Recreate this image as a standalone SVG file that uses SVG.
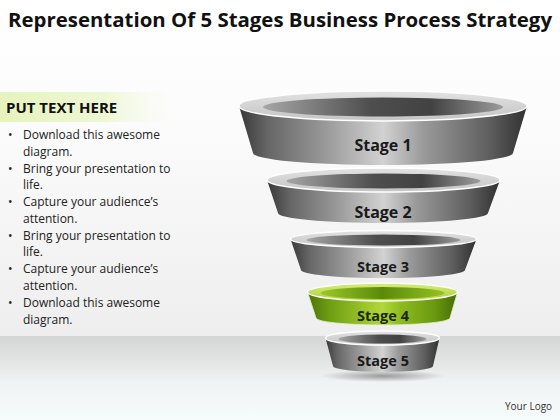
<svg xmlns="http://www.w3.org/2000/svg" width="560" height="420" viewBox="0 0 560 420">
<defs>
<linearGradient id="wall" x1="0" y1="0" x2="0" y2="1">
<stop offset="0" stop-color="#ffffff"/><stop offset="0.4" stop-color="#fbfbfb"/><stop offset="1" stop-color="#eeeeee"/>
</linearGradient>
<linearGradient id="floor" x1="0" y1="0" x2="0" y2="1">
<stop offset="0" stop-color="#d4d4d4"/><stop offset="0.55" stop-color="#f0f3f3"/><stop offset="1" stop-color="#f6fbfb"/>
</linearGradient>
<linearGradient id="hl" x1="0" y1="0" x2="1" y2="0">
<stop offset="0" stop-color="#e6f3bd"/><stop offset="0.6" stop-color="#eef7d4"/><stop offset="1" stop-color="#f8fbf2" stop-opacity="0"/>
</linearGradient>
<linearGradient id="body" x1="0" y1="0" x2="1" y2="0">
<stop offset="0" stop-color="#383838"/><stop offset="0.1" stop-color="#666666"/><stop offset="0.3" stop-color="#999999"/><stop offset="0.5" stop-color="#d2d2d2"/><stop offset="0.64" stop-color="#9a9a9a"/><stop offset="0.87" stop-color="#5e5e5e"/><stop offset="1" stop-color="#303030"/>
</linearGradient>
<linearGradient id="bodyG" x1="0" y1="0" x2="1" y2="0">
<stop offset="0" stop-color="#4a7308"/><stop offset="0.15" stop-color="#6f9e12"/><stop offset="0.5" stop-color="#b2d83a"/><stop offset="0.62" stop-color="#8dbb1e"/><stop offset="0.85" stop-color="#6a980f"/><stop offset="1" stop-color="#456c06"/>
</linearGradient>
<linearGradient id="rim" x1="0" y1="0" x2="0" y2="1">
<stop offset="0" stop-color="#e2e2e2"/><stop offset="1" stop-color="#c4c4c4"/>
</linearGradient>
<linearGradient id="rimG" x1="0" y1="0" x2="0" y2="1">
<stop offset="0" stop-color="#d8ec80"/><stop offset="1" stop-color="#a9d030"/>
</linearGradient>
<linearGradient id="inner" x1="0" y1="0" x2="1" y2="0">
<stop offset="0" stop-color="#a6a6a6"/><stop offset="0.45" stop-color="#4e4e4e"/><stop offset="0.7" stop-color="#424242"/><stop offset="1" stop-color="#9c9c9c"/>
</linearGradient>
<linearGradient id="innerG" x1="0" y1="0" x2="1" y2="0">
<stop offset="0" stop-color="#9cc828"/><stop offset="0.5" stop-color="#5a8a0a"/><stop offset="1" stop-color="#94c224"/>
</linearGradient>
<radialGradient id="shadow" cx="0.5" cy="0.5" r="0.5">
<stop offset="0" stop-color="#000" stop-opacity="0.35"/><stop offset="1" stop-color="#000" stop-opacity="0"/>
</radialGradient>
</defs>
<style>
.title{font-family:"Open Sans","Liberation Sans",sans-serif;font-weight:bold;font-size:20px;fill:#111}
.hdr{font-family:"Open Sans","Liberation Sans",sans-serif;font-weight:bold;font-size:15px;fill:#111}
.txt{font-family:"Open Sans","Liberation Sans",sans-serif;font-size:12px;fill:#222}
.lbl{font-family:"Open Sans","Liberation Sans",sans-serif;font-weight:bold;font-size:16px;fill:#1a1a1a;text-anchor:middle}
.logo{font-family:"Open Sans","Liberation Sans",sans-serif;font-size:10px;fill:#333}
.rimline{stroke:#ffffff;stroke-width:1.5}
</style>
<rect x="0" y="0" width="560" height="336" fill="url(#wall)"/>
<rect x="0" y="336" width="560" height="84" fill="url(#floor)"/>
<text class="title" x="8" y="27" textLength="544" lengthAdjust="spacingAndGlyphs">Representation Of 5 Stages Business Process Strategy</text>
<g id="textpanel">
<rect x="0" y="92" width="175" height="30" fill="url(#hl)"/>
<text class="hdr" x="6" y="113">PUT TEXT HERE</text>
<g class="txt">
<text x="8" y="139">•</text><text x="23" y="139">Download this awesome</text>
<text x="23" y="156">diagram.</text>
<text x="8" y="173">•</text><text x="23" y="173">Bring your presentation to</text>
<text x="23" y="189">life.</text>
<text x="8" y="206">•</text><text x="23" y="206">Capture your audience’s</text>
<text x="23" y="223">attention.</text>
<text x="8" y="240">•</text><text x="23" y="240">Bring your presentation to</text>
<text x="23" y="256">life.</text>
<text x="8" y="273">•</text><text x="23" y="273">Capture your audience’s</text>
<text x="23" y="290">attention.</text>
<text x="8" y="307">•</text><text x="23" y="307">Download this awesome</text>
<text x="23" y="324">diagram.</text>
</g>
</g>
<ellipse cx="383" cy="376" rx="62" ry="6" fill="url(#shadow)"/>
<g id="stage1">
<path d="M239 106 L253 153 A130 12 0 0 0 513 153 L527 106 A144 15 0 0 0 239 106 Z" fill="url(#body)"/>
<ellipse cx="383" cy="106" rx="144" ry="15" fill="url(#rim)" class="rimline"/>
<ellipse cx="383" cy="107" rx="120" ry="9.5" fill="url(#inner)"/>
<text class="lbl" x="383" y="151">Stage 1</text>
</g>
<g id="stage2">
<path d="M267 180 L278 213 A105 10 0 0 0 488 213 L500 180 A116.5 12 0 0 0 267 180 Z" fill="url(#body)"/>
<ellipse cx="383.5" cy="180" rx="116.5" ry="12" fill="url(#rim)" class="rimline"/>
<ellipse cx="383.5" cy="181" rx="97" ry="7.5" fill="url(#inner)"/>
<text class="lbl" x="383" y="218">Stage 2</text>
</g>
<g id="stage3">
<path d="M290.5 239 L301 270 A82 8 0 0 0 465 270 L476.5 239 A93 8.5 0 0 0 290.5 239 Z" fill="url(#body)"/>
<ellipse cx="383.5" cy="239" rx="93" ry="8.5" fill="url(#rim)" class="rimline"/>
<ellipse cx="383.5" cy="240" rx="77" ry="5.5" fill="url(#inner)"/>
<text class="lbl" x="383" y="272" style="font-size:14.5px">Stage 3</text>
</g>
<g id="stage4">
<path d="M307.5 292 L316 318 A67 7 0 0 0 450 318 L457.5 292 A75 9 0 0 0 307.5 292 Z" fill="url(#bodyG)" stroke="#e6f0c8" stroke-width="0.8"/>
<ellipse cx="382.5" cy="292" rx="75" ry="9" fill="url(#rimG)" class="rimline"/>
<ellipse cx="382.5" cy="293" rx="62" ry="6" fill="url(#innerG)"/>
<text class="lbl" x="383" y="321" style="font-size:14.5px;fill:#1c2800">Stage 4</text>
</g>
<g id="stage5">
<path d="M325.5 338 L333 366 A50 6 0 0 0 433 366 L439.5 338 A57 7 0 0 0 325.5 338 Z" fill="url(#body)"/>
<ellipse cx="382.5" cy="338" rx="57" ry="7" fill="url(#rim)" class="rimline"/>
<ellipse cx="382.5" cy="339" rx="44" ry="4.5" fill="url(#inner)"/>
<text class="lbl" x="383" y="366" style="font-size:14.5px">Stage 5</text>
</g>
<text class="logo" x="505" y="410">Your Logo</text>
</svg>
